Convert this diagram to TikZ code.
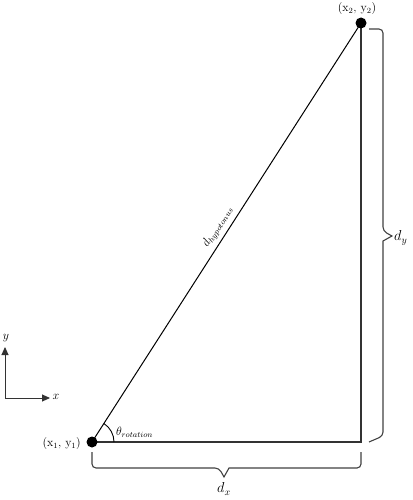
\documentclass[tikz,border=0pt]{standalone}
\usetikzlibrary{arrows.meta,calc}
\begin{document}
\begin{tikzpicture}[x=1pt,y=-1pt,
  edge/.style={line width=1.1pt,draw=black!80},
  hyp/.style={line width=1pt,draw=black},
  bracepath/.style={line width=1.1pt,draw=black!75,rounded corners=4pt},
  pt/.style={circle,fill=black,inner sep=0pt,minimum size=11pt},
  lbl/.style={font=\fontsize{12}{14}\selectfont,inner sep=1pt},
  big/.style={font=\fontsize{14}{16}\selectfont,inner sep=1pt},
  axis/.style={line width=0.9pt,draw=black!80,-{Triangle[length=8pt,width=7pt]}}]
\useasboundingbox (0,0) rectangle (412,500);
\coordinate (A) at (92,442);
\coordinate (B) at (361,23);
\coordinate (C) at (361,442);
\draw[edge] (A) -- (C) -- (B);
\draw[hyp] (A) -- node[lbl,sloped,above=3pt,pos=0.5]{$d_{hypotonus}$} (B);
\node[pt] (p1) at (A) {};
\node[pt] (p2) at (B) {};
\node[lbl,anchor=east] (l1) at (82,444) {(x$_{\mathrm{1}}$, y$_{\mathrm{1}}$)};
\node[lbl] (l2) at (357,9) {(x$_{\mathrm{2}}$, y$_{\mathrm{2}}$)};
% angle arc
\draw[line width=0.9pt] ($(A)+(22,0)$) arc[start angle=0,end angle=-57.2,radius=22];
\node[lbl,anchor=west] (th) at (115,432) {$\theta_{rotation}$};
% bottom brace
\coordinate (b1) at (92,452);
\coordinate (b2) at (361,452);
\draw[bracepath] (b1) -- (92,468) -- (219,468) [sharp corners] -- (224,477) -- (229,468) [rounded corners=4pt] -- (361,468) -- (b2);
\node[big] (dx) at (224,489) {$d_x$};
% right brace
\coordinate (r1) at (369,29);
\coordinate (r2) at (369,442);
\draw[bracepath] (r1) -- (383,29) -- (383,231) [sharp corners] -- (392,236) -- (383,241) [rounded corners=4pt] -- (383,436) -- (r2);
\node[big,anchor=west] (dy) at (393,238) {$d_y$};
% axes
\coordinate (O) at (5,398);
\coordinate (Y) at (5,347);
\coordinate (X) at (50,398);
\draw[axis] (O) -- (Y);
\draw[axis] (O) -- (X);
\node[lbl] (ylab) at (6,338) {$y$};
\node[lbl] (xlab) at (56,397) {$x$};
\end{tikzpicture}
\end{document}
